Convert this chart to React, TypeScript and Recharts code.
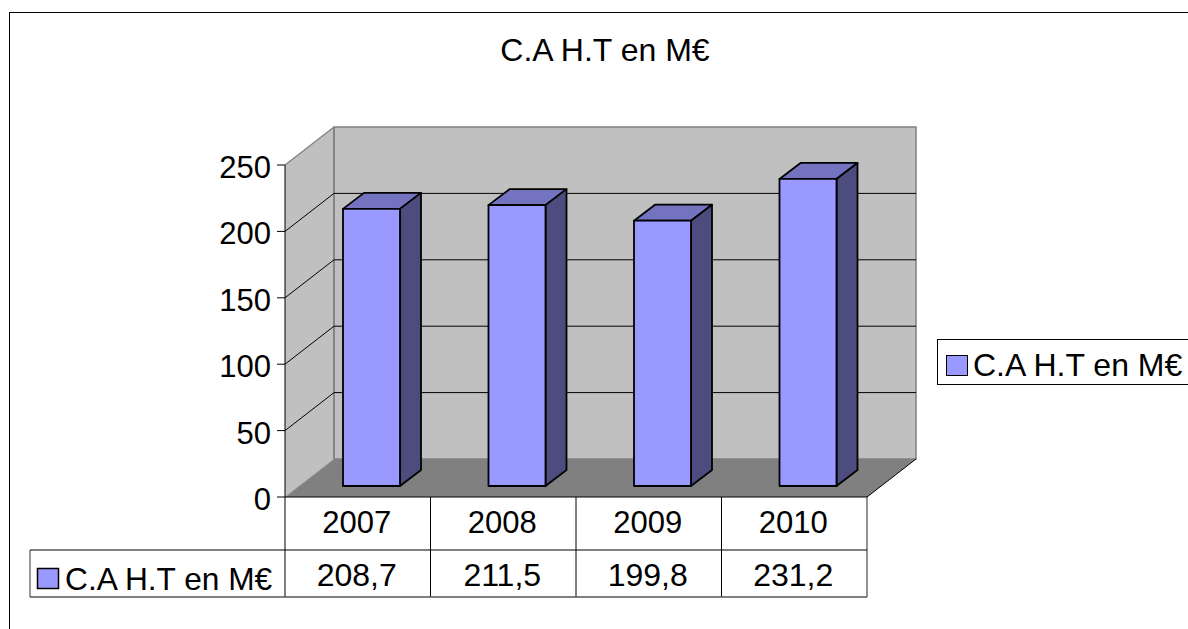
import React from "react";
import { BarChart, Bar, XAxis, YAxis, CartesianGrid, Legend, usePlotArea } from "recharts";

const SERIES_NAME = "C.A H.T en M€";
const TITLE = "C.A H.T en M€";
const years = ["2007", "2008", "2009", "2010"];
const values = [208.7, 211.5, 199.8, 231.2];
const valueLabels = ["208,7", "211,5", "199,8", "231,2"];
const yTicks = [0, 50, 100, 150, 200, 250];

const rows = years.map((year, i) => ({ year, value: values[i], label: valueLabels[i] }));

const FONT = "'Liberation Sans', Arial, sans-serif";
const DX = 49;
const DY = 38;
const BAR_SHIFT_X = 14;
const BAR_SHIFT_Y = 11;
const BAR_DX = 21;
const BAR_DY = 16;
const ROW1 = 53;
const ROW2 = 100;
const KEY_LEFT = 30;

const Walls = () => {
  const p = usePlotArea();
  if (!p) return null;
  const l = p.x, r = p.x + p.width, t = p.y, b = p.y + p.height;
  return (
    <g>
      <polygon points={`${l},${t} ${l + DX},${t - DY} ${l + DX},${b - DY} ${l},${b}`} fill="#c0c0c0" stroke="none" />
      <polygon points={`${l + DX},${t - DY} ${r + DX},${t - DY} ${r + DX},${b - DY} ${l + DX},${b - DY}`} fill="#c0c0c0" stroke="#808080" strokeWidth={1.5} />
      <polygon points={`${l},${b} ${l + DX},${b - DY} ${r + DX},${b - DY} ${r},${b}`} fill="#808080" stroke="none" />
      <line x1={l + DX} y1={t - DY} x2={l + DX} y2={b - DY} stroke="#808080" strokeWidth={1.5} />
      <line x1={l} y1={t} x2={l + DX} y2={t - DY} stroke="#808080" strokeWidth={1.2} />
      <line x1={l} y1={b} x2={l + DX} y2={b - DY} stroke="#a0a0a0" strokeWidth={1} />
      <line x1={r} y1={b} x2={r + DX} y2={b - DY} stroke="#000" strokeWidth={1} />
    </g>
  );
};

const GridLine = (props: any) => {
  const { x1, x2, y1 } = props;
  if (y1 > 490 || y1 < 170) return <g />;
  return (
    <polyline
      points={`${x1},${y1} ${x1 + DX},${y1 - DY} ${x2 + DX},${y1 - DY}`}
      fill="none"
      stroke="#000"
      strokeWidth={1}
    />
  );
};

const Bar3D = (props: any) => {
  const { x, y, width, height } = props;
  const l = x + BAR_SHIFT_X, r = l + width, t = y - BAR_SHIFT_Y, b = t + height;
  const sw = 1.8;
  return (
    <g stroke="#000" strokeWidth={sw} strokeLinejoin="round">
      <polygon points={`${l},${t} ${l + BAR_DX},${t - BAR_DY} ${r + BAR_DX},${t - BAR_DY} ${r},${t}`} fill="#7373bf" />
      <polygon points={`${r},${t} ${r + BAR_DX},${t - BAR_DY} ${r + BAR_DX},${b - BAR_DY} ${r},${b}`} fill="#4c4c7f" />
      <rect x={l} y={t} width={width} height={height} fill="#9999ff" />
    </g>
  );
};

const TableTick = (props: any) => {
  const { x, y, index, payload } = props;
  const row = rows[index];
  return (
    <g>
      <text x={x - 1} y={y + 30} textAnchor="middle" fontFamily={FONT} fontSize={31} fill="#000">{payload.value}</text>
      <text x={x - 1} y={y + 83} textAnchor="middle" fontFamily={FONT} fontSize={32} fill="#000">{row.label}</text>
    </g>
  );
};

const DataTable = () => {
  const p = usePlotArea();
  if (!p) return null;
  const l = p.x, r = p.x + p.width, b = p.y + p.height;
  const cell = p.width / years.length;
  return (
    <g>
      {years.map((_, i) => (
        <line key={i} x1={l + cell * i} y1={b} x2={l + cell * i} y2={b + ROW2} stroke="#000" strokeWidth={1} />
      ))}
      <line x1={r} y1={b} x2={r} y2={b + ROW2} stroke="#555" strokeWidth={1.3} />
      <line x1={KEY_LEFT} y1={b + ROW1} x2={r} y2={b + ROW1} stroke="#000" strokeWidth={1} />
      <line x1={KEY_LEFT} y1={b + ROW2} x2={r} y2={b + ROW2} stroke="#555" strokeWidth={1.3} />
      <line x1={KEY_LEFT} y1={b + ROW1} x2={KEY_LEFT} y2={b + ROW2} stroke="#333" strokeWidth={1} />
      <rect x={37.5} y={b + 71.5} width={21} height={20} fill="#9999ff" stroke="#000" strokeWidth={1.5} />
      <text x={65} y={b + 93} fontFamily={FONT} fontSize={31.7} fill="#000">{SERIES_NAME}</text>
    </g>
  );
};

const LegendBox = () => (
  <div
    style={{
      position: "relative",
      width: 260,
      height: 46,
      border: "1px solid #000",
      borderRight: "none",
      boxSizing: "border-box",
      fontFamily: FONT,
      fontSize: 32,
      color: "#000",
      whiteSpace: "nowrap",
      lineHeight: "46px",
    }}
  >
    <span
      style={{
        position: "absolute",
        left: 8,
        top: 15,
        width: 22,
        height: 21,
        boxSizing: "border-box",
        background: "#9999ff",
        border: "1.5px solid #000",
      }}
    />
    <span style={{ position: "absolute", left: 35, top: 2 }}>{SERIES_NAME}</span>
  </div>
);

export default function App() {
  return (
    <div style={{ position: "absolute", left: 0, top: 0, width: 1188, height: 629, overflow: "hidden", background: "#fff" }}>
      <div style={{ position: "absolute", left: 9, top: 12, width: 1300, height: 800, border: "1px solid #000", boxSizing: "border-box" }} />
      <BarChart
        width={1188}
        height={629}
        data={rows}
        margin={{ top: 165, right: 321, bottom: 32, left: 185 }}
        barSize={57}
        style={{ position: "absolute", left: 0, top: 0 }}
      >
        <Walls />
        <CartesianGrid vertical={false} horizontal={GridLine as any} {...({ zIndex: 1 } as any)} />
        <XAxis
          dataKey="year"
          type="category"
          height={100}
          axisLine={{ stroke: "#000", strokeWidth: 1 }}
          tickLine={false}
          tick={TableTick as any}
          interval={0}
          tickMargin={0}
        />
        <YAxis
          type="number"
          domain={[0, 250]}
          ticks={yTicks}
          width={100}
          interval={0}
          axisLine={{ stroke: "#000", strokeWidth: 1 }}
          tickLine={{ stroke: "#000", strokeWidth: 1 }}
          tickSize={8}
          tickMargin={6}
          tick={{ fontFamily: FONT, fontSize: 31, fill: "#000", dy: 2 } as any}
        />
        <DataTable />
        <Bar dataKey="value" name={SERIES_NAME} shape={Bar3D as any} isAnimationActive={false} />
        <text x={605} y={61} textAnchor="middle" fontFamily={FONT} fontSize={32} fill="#000">{TITLE}</text>
        <Legend
          layout="horizontal"
          verticalAlign="middle"
          content={<LegendBox />}
          wrapperStyle={{ left: 937, top: 339, width: 260, height: 46 }}
        />
      </BarChart>
    </div>
  );
}
